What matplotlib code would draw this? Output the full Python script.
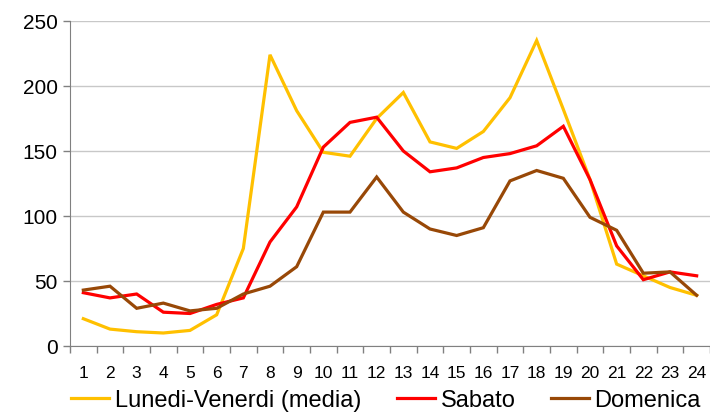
import matplotlib
matplotlib.use('agg')
import matplotlib.pyplot as plt
from matplotlib.lines import Line2D

hours = list(range(1, 25))
feriali = [21, 13, 11, 10, 12, 24, 75, 224, 181, 149, 146, 175, 195, 157, 152, 165,
           191, 235, 182, 128, 63, 54, 45, 39]
sabato = [41, 37, 40, 26, 25, 32, 37, 80, 107, 153, 172, 176, 150, 134, 137, 145,
          148, 154, 169, 128, 77, 51, 57, 54]
domenica = [43, 46, 29, 33, 27, 29, 40, 46, 61, 103, 103, 130, 103, 90, 85, 91,
            127, 135, 129, 99, 89, 56, 57, 39]

plt.rcParams['font.family'] = ['Liberation Sans', 'DejaVu Sans']

fig = plt.figure(figsize=(7.1, 4.14), dpi=100)
ax = fig.add_axes([70 / 710, 1 - 347 / 414, 640 / 710, 325 / 414])

lw = 2.3
ax.plot(hours, feriali, color='#FFC000', lw=lw, solid_joinstyle='miter')
ax.plot(hours, sabato, color='#FF0000', lw=lw, solid_joinstyle='miter')
ax.plot(hours, domenica, color='#984807', lw=lw, solid_joinstyle='miter')

ax.set_xlim(0.5, 24.5)
ax.set_ylim(0, 250)
ax.set_yticks(range(0, 251, 50))
ax.grid(axis='y', color='#c8c8c8', lw=1)
ax.set_axisbelow(True)

# category labels centred, tick marks between categories
ax.set_xticks(hours)
ax.set_xticklabels([str(h) for h in hours], fontsize=12.5)
ax.set_xticks([h + 0.5 for h in range(0, 25)], minor=True)
ax.tick_params(axis='x', which='major', length=0, pad=14)
ax.tick_params(axis='x', which='minor', length=5, color='#808080', width=1)
ax.tick_params(axis='y', length=5, color='#808080', width=1, labelsize=15, pad=4)

for s in ['top', 'right']:
    ax.spines[s].set_visible(False)
ax.spines['left'].set_color('#808080')
ax.spines['bottom'].set_color('#808080')

handles = [Line2D([], [], color='#FFC000', lw=lw),
           Line2D([], [], color='#FF0000', lw=lw),
           Line2D([], [], color='#984807', lw=lw)]
fig.legend(handles, ['Lunedi-Venerdi (media)', 'Sabato', 'Domenica'],
           loc='center', bbox_to_anchor=(0.544, 1 - 401 / 414), ncol=3, frameon=False,
           fontsize=17, handlelength=1.6, handletextpad=0.25, columnspacing=1.5,
           borderpad=0, borderaxespad=0)

fig.savefig('out.png', dpi=100)
